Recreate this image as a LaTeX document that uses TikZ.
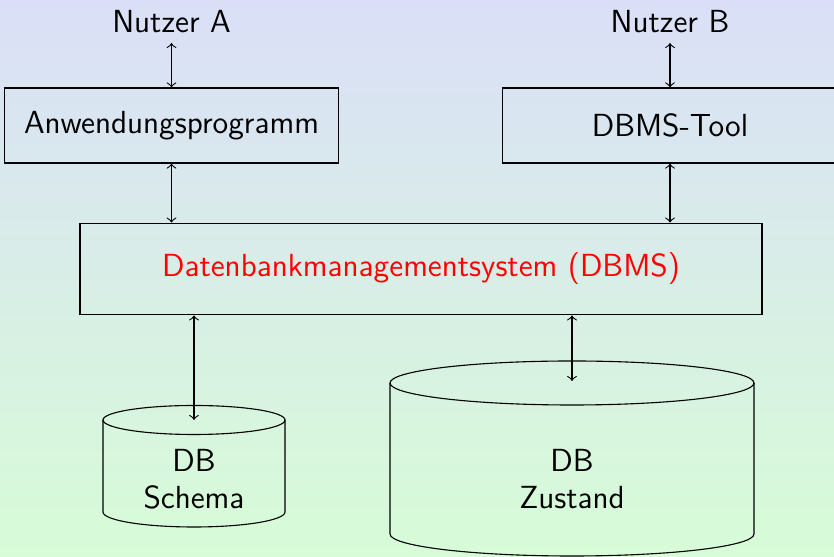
\documentclass[tikz,border=0pt]{standalone}
\usepackage{tikz}
\usetikzlibrary{positioning,calc}

\definecolor{bgtop}{RGB}{218,223,247}
\definecolor{bgbottom}{RGB}{215,252,215}

\begin{document}
\begin{tikzpicture}[x=0.36pt,y=0.36pt,font=\sffamily\fontsize{11.5}{13.2}\selectfont,
  box/.style={draw,rectangle,inner sep=0pt,minimum width=120pt,minimum height=27pt},
  link/.style={<->,thin}]
% background
\shade[top color=bgtop,bottom color=bgbottom] (0,0) rectangle (834,557);
\useasboundingbox (0,0) rectangle (834,557);
% boxes
\node[box,minimum width=245.5pt,minimum height=33pt,text=red] (dbms) at (421,288) {Datenbankmanagementsystem (DBMS)};
\node[box] (prog) at (171.5,431.5) {Anwendungsprogramm};
\node[box,minimum width=120.5pt] (tool) at (670,431.5) {DBMS-Tool};
% users
\node (nutzerA) [above =16pt of prog] {Nutzer A};
\node (nutzerB) [above =16pt of tool] {Nutzer B};
% the two databases
\coordinate (schematop) at (194,137);
\coordinate (zustandtop) at (572,174);
\draw (schematop) ellipse [x radius=91,y radius=14.5];
\draw ($(schematop)+(-91,0)$) -- ++(0,-92) arc[start angle=180,end angle=360,x radius=91,y radius=15] -- ++(0,92);
\draw (zustandtop) ellipse [x radius=182,y radius=22];
\draw ($(zustandtop)+(-182,0)$) -- ++(0,-151) arc[start angle=180,end angle=360,x radius=182,y radius=22] -- ++(0,151);
\node[align=center] (schema) at (194,78) {DB\\Schema};
\node[align=center] (zustand) at (572,78) {DB\\Zustand};
% the arrows
\draw[link] (nutzerA.south) -- (prog.north);
\draw[link] (nutzerB.south) -- (tool.north);
\draw[link] (prog.south) -- (prog.south |- dbms.north);
\draw[link] (tool.south) -- (tool.south |- dbms.north);
\draw[link] (schematop |- dbms.south) -- (schematop);
\draw[link] (zustandtop |- dbms.south) -- ($(zustandtop)+(0,2)$);
\end{tikzpicture}
\end{document}
